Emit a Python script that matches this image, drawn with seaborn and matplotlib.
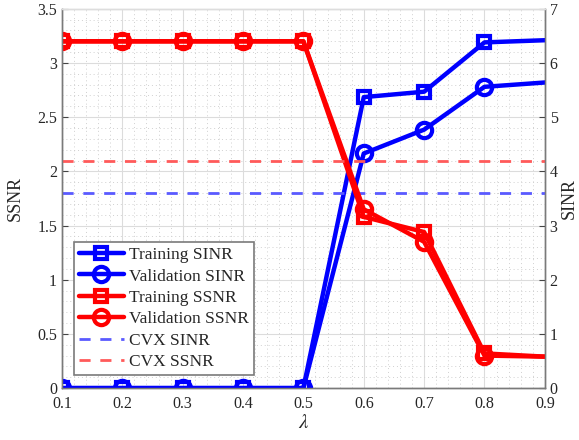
import numpy as np
import pandas as pd
import matplotlib
matplotlib.use("Agg")
import matplotlib.pyplot as plt
from matplotlib.ticker import MultipleLocator, FormatStrFormatter
import seaborn as sns

# values
lam = [0.1, 0.2, 0.3, 0.4, 0.5, 0.6, 0.7, 0.8, 0.9]
train_sinr = [0.0, 0.0, 0.0, 0.0, 0.0, 5.37, 5.47, 6.38, 6.42]
val_sinr = [0.0, 0.0, 0.0, 0.0, 0.0, 4.33, 4.77, 5.56, 5.64]
train_ssnr = [3.2, 3.2, 3.2, 3.2, 3.2, 1.58, 1.44, 0.32, 0.29]
val_ssnr = [3.2, 3.2, 3.2, 3.2, 3.2, 1.65, 1.35, 0.30, 0.29]
cvx_sinr = 3.6
cvx_ssnr = 2.1

sns.set_style("whitegrid")
plt.rcParams['font.family'] = ['Liberation Serif', 'DejaVu Serif']
plt.rcParams['mathtext.fontset'] = 'stix'

df = pd.DataFrame({"lam": lam, "train_sinr": train_sinr, "val_sinr": val_sinr,
                   "train_ssnr": train_ssnr, "val_ssnr": val_ssnr})

fig = plt.figure(figsize=(5.79, 4.4), dpi=100)
ax = fig.add_axes([0.107, 0.118, 0.834, 0.862])
ax2 = ax.twinx()

lw = 3.2
sq = dict(marker='s', markersize=8.5, markeredgewidth=3, markerfacecolor='none',
          markevery=list(range(8)))
ci = dict(marker='o', markersize=11, markeredgewidth=3, markerfacecolor='none',
          markevery=list(range(8)))
blue = '#0000ff'
red = '#ff0000'

# SINR on right axis
sns.lineplot(data=df, x="lam", y="train_sinr", ax=ax2, color=blue, lw=lw,
             markeredgecolor=blue, label='Training SINR', legend=False, **sq)
sns.lineplot(data=df, x="lam", y="val_sinr", ax=ax2, color=blue, lw=lw,
             markeredgecolor=blue, label='Validation SINR', legend=False, **ci)
ax2.axhline(cvx_sinr, color='#5a5aff', lw=2, ls=(0, (4, 3.5)), label='CVX SINR')

# SSNR, drawn on the same axes (scaled x2 to match the left axis) so it sits over the blue lines
sns.lineplot(data=df, x="lam", y="train_ssnr", ax=ax2, color=red, lw=lw,
             markeredgecolor=red, label='Training SSNR', legend=False, **sq)
sns.lineplot(data=df, x="lam", y="val_ssnr", ax=ax2, color=red, lw=lw,
             markeredgecolor=red, label='Validation SSNR', legend=False, **ci)
for line in ax2.get_lines()[-2:]:
    line.set_ydata(np.array(line.get_ydata()) * 2)
ax2.axhline(cvx_ssnr * 2, color='#ff5a5a', lw=2, ls=(0, (4, 3.5)), label='CVX SSNR')

ax.set_xlim(0.1, 0.9)
ax.set_ylim(0, 3.5)
ax2.set_ylim(0, 7)
ax.xaxis.set_major_locator(MultipleLocator(0.1))
ax.xaxis.set_minor_locator(MultipleLocator(0.02))
ax.yaxis.set_major_locator(MultipleLocator(0.5))
ax.yaxis.set_minor_locator(MultipleLocator(0.1))
ax2.yaxis.set_major_locator(MultipleLocator(1))
ax.xaxis.set_major_formatter(FormatStrFormatter('%g'))
ax.yaxis.set_major_formatter(FormatStrFormatter('%g'))

ax.grid(True, which='major', color='#dcdcdc', lw=0.8, ls='-')
ax.grid(True, which='minor', color='#d0d0d0', lw=0.7, ls=(0, (1, 3)))
ax2.grid(False)
ax.set_axisbelow(True)

fs = 11.5
ax.tick_params(axis='x', which='major', pad=6)
ax.tick_params(axis='both', which='major', direction='in', length=4, labelsize=fs,
               color='#444444', labelcolor='#262626')
ax.tick_params(axis='both', which='minor', length=0)
ax2.tick_params(axis='y', direction='in', length=4, labelsize=fs, color='#444444',
                labelcolor='#262626')

for a in (ax, ax2):
    for s in a.spines.values():
        s.set_color('#7a7a7a')
        s.set_linewidth(1.0)
    a.spines['top'].set_color('#dddddd')

ax.set_xlabel(r'$\lambda$', fontsize=15, labelpad=1)
ax.set_ylabel('SSNR', fontsize=13, labelpad=10)
ax2.set_ylabel('SINR', fontsize=13, rotation=90, labelpad=2)
ax2.set_xlabel('')

handles, labels = ax2.get_legend_handles_labels()
order = ['Training SINR', 'Validation SINR', 'Training SSNR', 'Validation SSNR', 'CVX SINR', 'CVX SSNR']
hmap = dict(zip(labels, handles))
leg = ax2.legend([hmap[k] for k in order], order, loc='lower left',
                 bbox_to_anchor=(0.024, 0.034), fontsize=12.5, frameon=True, fancybox=False,
                 numpoints=1, handlelength=2.6, handletextpad=0.3, borderpad=0.3,
                 labelspacing=0.3, borderaxespad=0)
leg.get_frame().set_edgecolor('#7a7a7a')
leg.get_frame().set_linewidth(1.2)
leg.get_frame().set_alpha(1)

fig.savefig("out.png", dpi=100)
